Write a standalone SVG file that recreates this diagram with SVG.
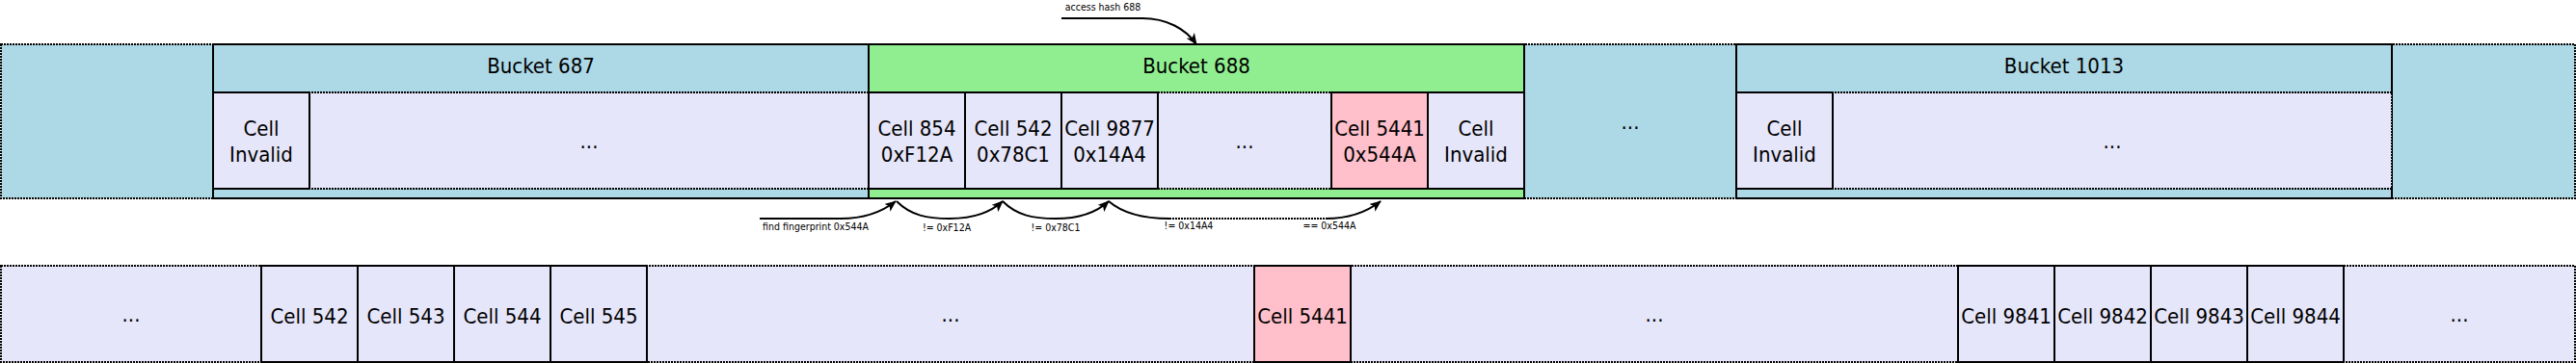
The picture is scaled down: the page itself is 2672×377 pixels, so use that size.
<svg xmlns="http://www.w3.org/2000/svg" width="2672" height="377" viewBox="0 0 2672 377">
<defs>
<style>
.row{stroke:#000;stroke-width:2;stroke-dasharray:2 1}
.box{stroke:#000;stroke-width:2}
.blue{fill:#ADD8E6}
.green{fill:#90EE90}
.lav{fill:#E6E6FA}
.pink{fill:#FFC0CB}
text{font-family:"DejaVu Sans Condensed","DejaVu Sans",sans-serif;font-stretch:condensed;fill:#000;text-anchor:middle}
.t{font-size:22px}
.s{font-size:10.5px}
.edge{fill:none;stroke:#000;stroke-width:2}
.dot{fill:none;stroke:#000;stroke-width:2;stroke-dasharray:2 1}
</style>
<marker id="arr" viewBox="0 0 12 10" refX="11" refY="5" markerWidth="12" markerHeight="10" markerUnits="userSpaceOnUse" orient="auto">
<path d="M0,0 L12,5 L0,10 L3,5 z" fill="#000"/>
</marker>
</defs>
<rect width="2672" height="377" fill="#fff"/>

<g id="bucket-row">
<rect class="row blue" x="1" y="46" width="2670" height="160"/>
<text class="t" x="1691" y="134">...</text>
</g>

<g id="bucket-687">
<rect class="box blue" x="221" y="46" width="680" height="160"/>
<text class="t" x="561" y="76">Bucket 687</text>
<rect class="row lav" x="221" y="96" width="680" height="100"/>
<rect class="box lav" x="221" y="96" width="100" height="100"/>
<text class="t" x="271" y="141">Cell</text>
<text class="t" x="271" y="168">Invalid</text>
<text class="t" x="611" y="154">...</text>
</g>

<g id="bucket-688">
<rect class="box green" x="901" y="46" width="680" height="160"/>
<text class="t" x="1241" y="76">Bucket 688</text>
<rect class="row lav" x="901" y="96" width="680" height="100"/>
<rect class="box lav" x="901" y="96" width="100" height="100"/>
<text class="t" x="951" y="141">Cell 854</text>
<text class="t" x="951" y="168">0xF12A</text>
<rect class="box lav" x="1001" y="96" width="100" height="100"/>
<text class="t" x="1051" y="141">Cell 542</text>
<text class="t" x="1051" y="168">0x78C1</text>
<rect class="box lav" x="1101" y="96" width="100" height="100"/>
<text class="t" x="1151" y="141">Cell 9877</text>
<text class="t" x="1151" y="168">0x14A4</text>
<text class="t" x="1291" y="154">...</text>
<rect class="box pink" x="1381" y="96" width="100" height="100"/>
<text class="t" x="1431" y="141">Cell 5441</text>
<text class="t" x="1431" y="168">0x544A</text>
<rect class="box lav" x="1481" y="96" width="100" height="100"/>
<text class="t" x="1531" y="141">Cell</text>
<text class="t" x="1531" y="168">Invalid</text>
</g>

<g id="bucket-1013">
<rect class="box blue" x="1801" y="46" width="680" height="160"/>
<text class="t" x="2141" y="76">Bucket 1013</text>
<rect class="row lav" x="1801" y="96" width="680" height="100"/>
<rect class="box lav" x="1801" y="96" width="100" height="100"/>
<text class="t" x="1851" y="141">Cell</text>
<text class="t" x="1851" y="168">Invalid</text>
<text class="t" x="2191" y="154">...</text>
</g>

<g id="cell-row">
<rect class="row lav" x="1" y="276" width="2670" height="100"/>
<text class="t" x="136" y="334">...</text>
<text class="t" x="986" y="334">...</text>
<text class="t" x="1716" y="334">...</text>
<text class="t" x="2551" y="334">...</text>
</g>
<g id="cell-542"><rect class="box lav" x="271" y="276" width="100" height="100"/><text class="t" x="321" y="336">Cell 542</text></g>
<g id="cell-543"><rect class="box lav" x="371" y="276" width="100" height="100"/><text class="t" x="421" y="336">Cell 543</text></g>
<g id="cell-544"><rect class="box lav" x="471" y="276" width="100" height="100"/><text class="t" x="521" y="336">Cell 544</text></g>
<g id="cell-545"><rect class="box lav" x="571" y="276" width="100" height="100"/><text class="t" x="621" y="336">Cell 545</text></g>
<g id="cell-5441"><rect class="box pink" x="1301" y="276" width="100" height="100"/><text class="t" x="1351" y="336">Cell 5441</text></g>
<g id="cell-9841"><rect class="box lav" x="2031" y="276" width="100" height="100"/><text class="t" x="2081" y="336">Cell 9841</text></g>
<g id="cell-9842"><rect class="box lav" x="2131" y="276" width="100" height="100"/><text class="t" x="2181" y="336">Cell 9842</text></g>
<g id="cell-9843"><rect class="box lav" x="2231" y="276" width="100" height="100"/><text class="t" x="2281" y="336">Cell 9843</text></g>
<g id="cell-9844"><rect class="box lav" x="2331" y="276" width="100" height="100"/><text class="t" x="2381" y="336">Cell 9844</text></g>

<g id="connectors">
<path class="edge" marker-end="url(#arr)" d="M1101,19 L1185,19 C1210,19 1230,30 1241,46"/>
<text class="s" x="1144" y="11">access hash 688</text>

<path class="edge" marker-end="url(#arr)" d="M788,227 L872,227 C898,227 915,220 929,209"/>
<text class="s" x="846" y="239">find fingerprint 0x544A</text>

<path class="edge" marker-end="url(#arr)" d="M930,209 C945,224 962,227 985,227 C1008,227 1026,222 1040,209"/>
<text class="s" x="982" y="240">!= 0xF12A</text>

<path class="edge" marker-end="url(#arr)" d="M1040,209 C1055,224 1072,227 1095,227 C1118,227 1136,222 1150,209"/>
<text class="s" x="1095" y="240">!= 0x78C1</text>

<path class="edge" d="M1150,209 C1165,222 1185,227 1213,227"/>
<path class="dot" d="M1213,227 L1375,227"/>
<path class="edge" marker-end="url(#arr)" d="M1375,227 C1400,227 1418,220 1432,209"/>
<text class="s" x="1233" y="238">!= 0x14A4</text>
<text class="s" x="1379" y="238">== 0x544A</text>
</g>
</svg>
